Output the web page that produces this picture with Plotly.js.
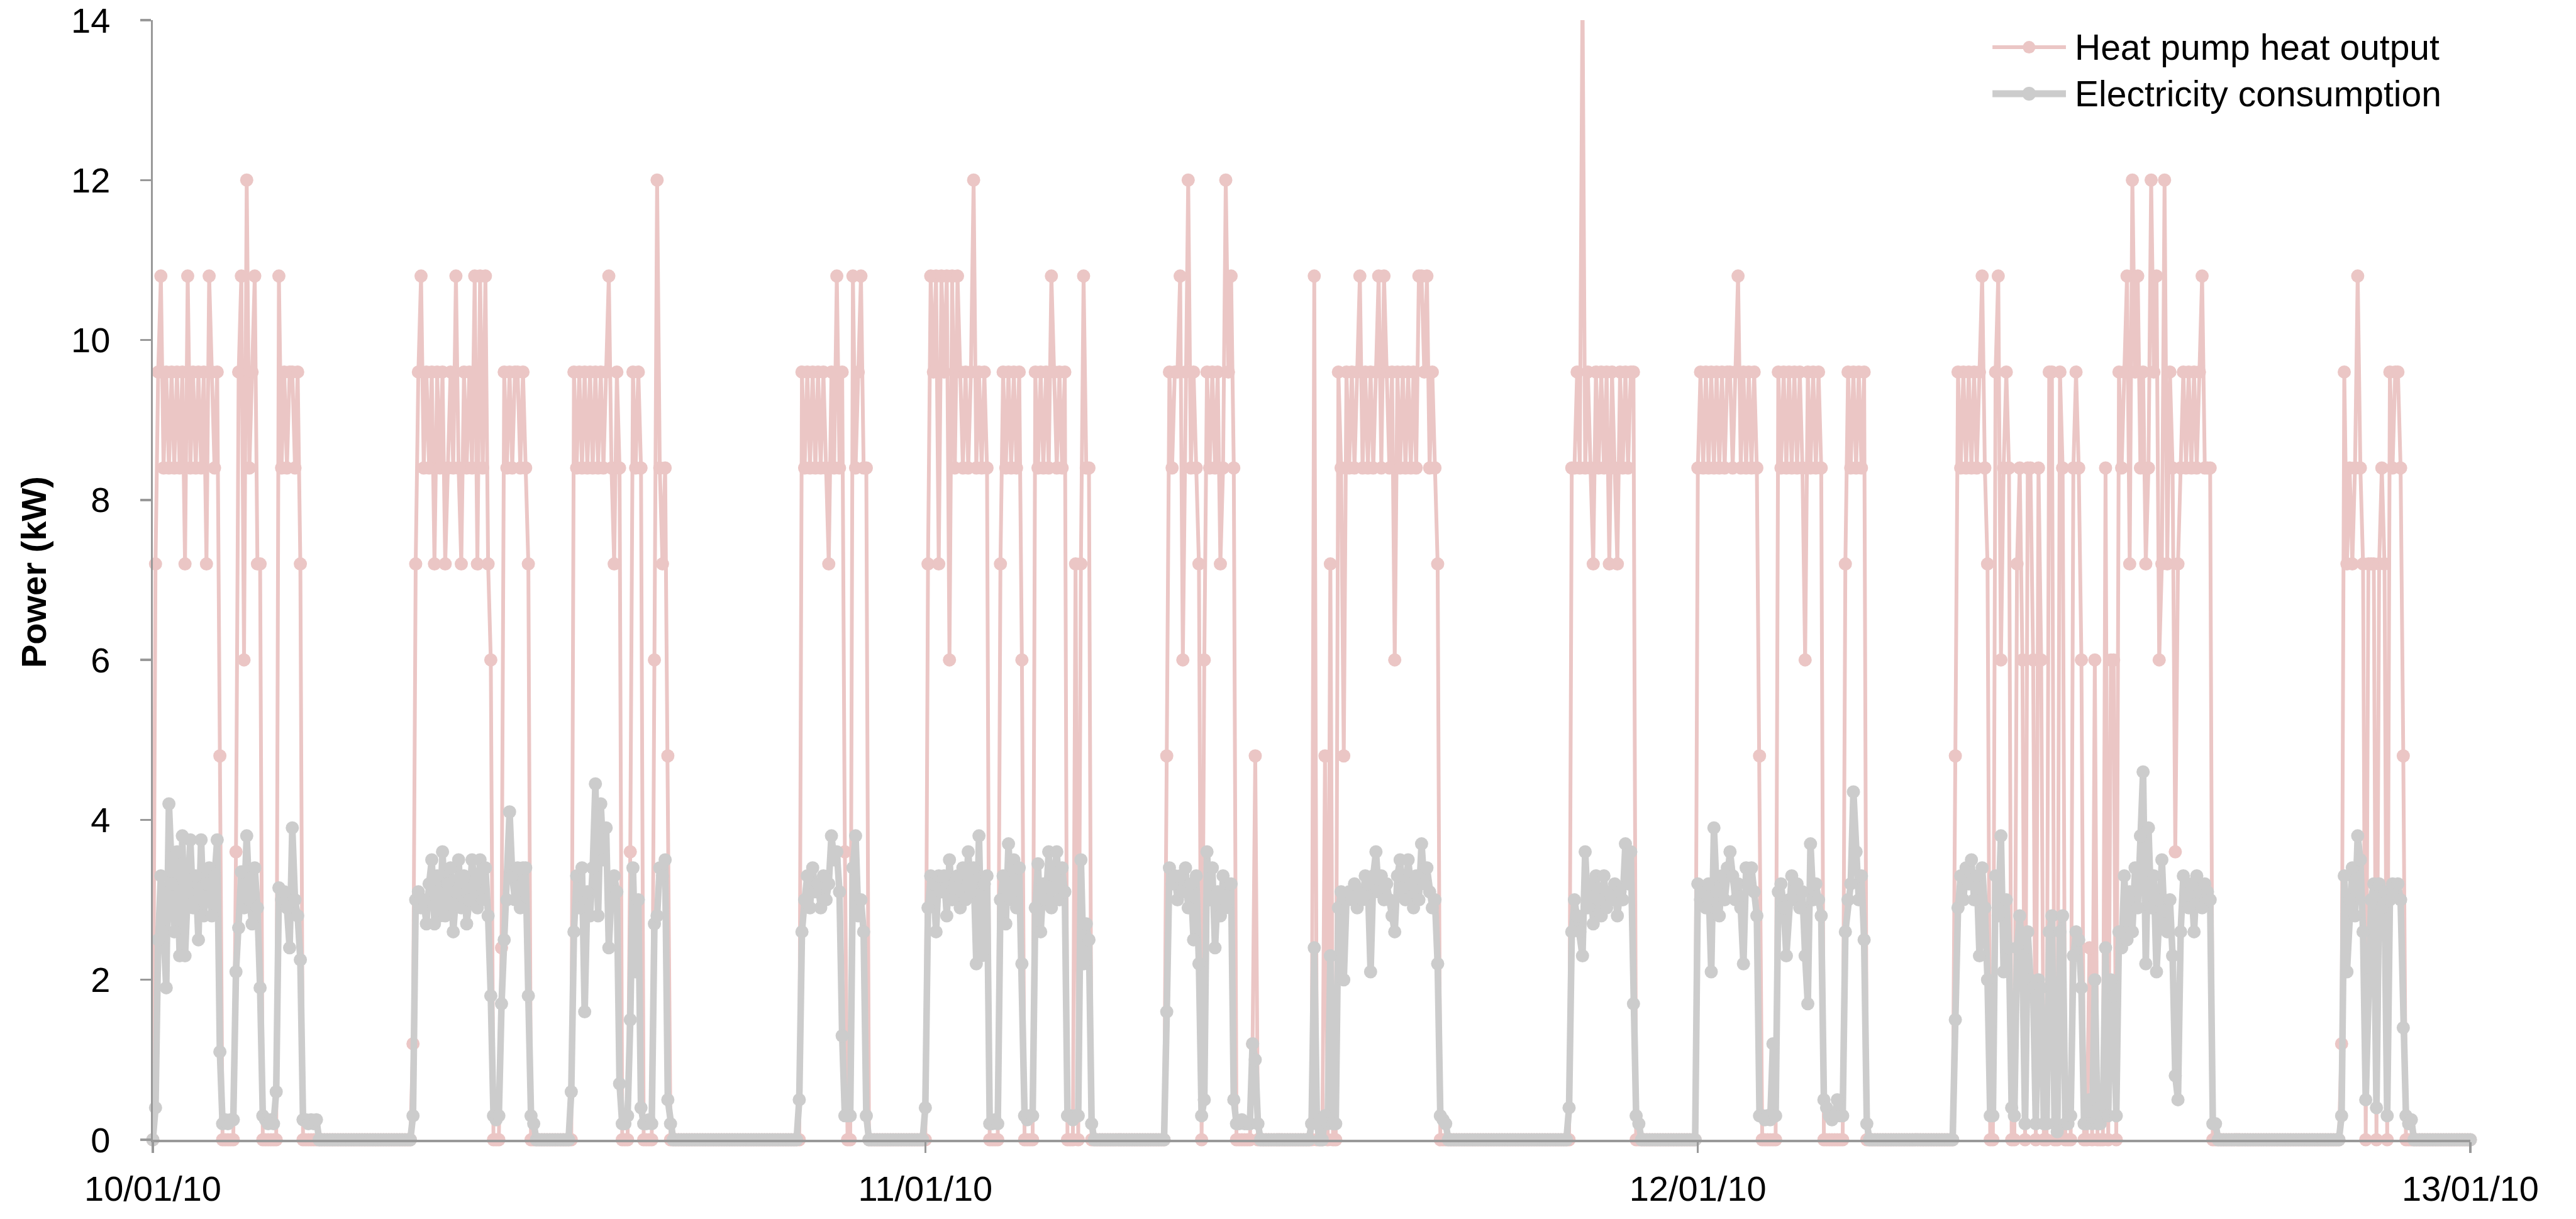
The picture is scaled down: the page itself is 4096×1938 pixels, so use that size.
<!DOCTYPE html>
<html>
<head>
<meta charset="utf-8">
<script src="https://cdn.plot.ly/plotly-3.0.1.min.js"></script>
<style>
  html, body { margin: 0; padding: 0; background: #ffffff; }
  #chart { width: 4096px; height: 1938px; }
</style>
</head>
<body>
<div id="chart"></div>
<script>
// Five-minute readings from 10/01/10 00:00 to 13/01/10 00:00, one row per hour.
const startDate = [2010, 0, 10];
const stepMinutes = 5;

// Heat pump heat output (kW)
const heatOutput = [
  // 10/01/10
  0,7.2,9.6,10.8,8.4,9.6,8.4,9.6,8.4,9.6,8.4,9.6,
  7.2,10.8,8.4,9.6,8.4,9.6,8.4,9.6,7.2,10.8,9.6,8.4,
  9.6,4.8,0,0,0,0,0,3.6,9.6,10.8,6.0,12.0,
  8.4,9.6,10.8,7.2,7.2,0,0,0,0,0,0,10.8,
  8.4,9.6,8.4,9.6,9.6,8.4,9.6,7.2,0,0,0,0,
  0,0,0,0,0,0,0,0,0,0,0,0,
  0,0,0,0,0,0,0,0,0,0,0,0,
  0,0,0,0,0,0,0,0,0,0,0,0,
  0,1.2,7.2,9.6,10.8,8.4,9.6,8.4,9.6,7.2,9.6,8.4,
  9.6,7.2,8.4,9.6,8.4,10.8,8.4,7.2,9.6,8.4,9.6,8.4,
  10.8,7.2,10.8,8.4,10.8,7.2,6.0,0,0,0,2.4,9.6,
  8.4,9.6,8.4,9.6,9.6,8.4,9.6,8.4,7.2,0,0,0,
  0,0,0,0,0,0,0,0,0,0,0,0,
  0,9.6,8.4,9.6,8.4,9.6,8.4,9.6,8.4,9.6,8.4,9.6,
  8.4,9.6,10.8,8.4,7.2,9.6,8.4,0,0,0,3.6,9.6,
  8.4,9.6,8.4,0,0,0,0,6.0,12.0,8.4,7.2,8.4,
  4.8,0,0,0,0,0,0,0,0,0,0,0,
  0,0,0,0,0,0,0,0,0,0,0,0,
  0,0,0,0,0,0,0,0,0,0,0,0,
  0,0,0,0,0,0,0,0,0,0,0,0,
  0,0,9.6,8.4,9.6,8.4,9.6,8.4,9.6,8.4,9.6,8.4,
  7.2,9.6,8.4,10.8,8.4,9.6,3.6,0,0,10.8,8.4,9.6,
  10.8,8.4,8.4,0,0,0,0,0,0,0,0,0,
  0,0,0,0,0,0,0,0,0,0,0,0,
  // 11/01/10
  0,7.2,10.8,9.6,10.8,7.2,10.8,9.6,10.8,6.0,10.8,8.4,
  10.8,9.6,8.4,9.6,8.4,9.6,12.0,8.4,9.6,8.4,9.6,8.4,
  0,0,0,0,7.2,9.6,8.4,9.6,8.4,9.6,8.4,9.6,
  6.0,0,0,0,0,9.6,8.4,9.6,8.4,9.6,8.4,10.8,
  9.6,8.4,9.6,8.4,9.6,0,0,0,7.2,0,7.2,10.8,
  8.4,8.4,0,0,0,0,0,0,0,0,0,0,
  0,0,0,0,0,0,0,0,0,0,0,0,
  0,0,0,0,0,0,4.8,9.6,8.4,9.6,9.6,10.8,
  6.0,9.6,12.0,8.4,9.6,8.4,7.2,0,6.0,9.6,8.4,9.6,
  8.4,9.6,7.2,8.4,12.0,9.6,10.8,8.4,0,0,0,0,
  0,0,1.2,4.8,0,0,0,0,0,0,0,0,
  0,0,0,0,0,0,0,0,0,0,0,0,
  0,10.8,0,0,0,4.8,0,7.2,0,0,9.6,8.4,
  4.8,9.6,8.4,9.6,8.4,9.6,10.8,8.4,9.6,8.4,9.6,8.4,
  9.6,10.8,8.4,10.8,9.6,8.4,9.6,6.0,9.6,8.4,9.6,8.4,
  9.6,8.4,9.6,8.4,10.8,10.8,9.6,10.8,8.4,9.6,8.4,7.2,
  0,0,0,0,0,0,0,0,0,0,0,0,
  0,0,0,0,0,0,0,0,0,0,0,0,
  0,0,0,0,0,0,0,0,0,0,0,0,
  0,0,0,0,0,0,0,0,0,0,0,0,
  0,8.4,8.4,9.6,8.4,14.4,8.4,9.6,8.4,7.2,9.6,8.4,
  9.6,8.4,9.6,7.2,9.6,8.4,7.2,9.6,8.4,9.6,8.4,9.6,
  9.6,0,0,0,0,0,0,0,0,0,0,0,
  0,0,0,0,0,0,0,0,0,0,0,0,
  // 12/01/10
  8.4,9.6,8.4,9.6,8.4,9.6,8.4,9.6,8.4,9.6,8.4,9.6,
  9.6,8.4,9.6,10.8,8.4,9.6,8.4,9.6,8.4,9.6,8.4,4.8,
  0,0,0,0,0,0,9.6,8.4,9.6,8.4,9.6,8.4,
  9.6,8.4,9.6,8.4,6.0,9.6,8.4,9.6,8.4,9.6,8.4,0,
  0,0,0,0,0,0,0,7.2,9.6,8.4,9.6,8.4,
  9.6,8.4,9.6,0,0,0,0,0,0,0,0,0,
  0,0,0,0,0,0,0,0,0,0,0,0,
  0,0,0,0,0,0,0,0,0,0,0,0,
  4.8,9.6,8.4,9.6,8.4,9.6,8.4,9.6,8.4,9.6,10.8,8.4,
  7.2,0,0,9.6,10.8,6.0,8.4,9.6,8.4,0,0,7.2,
  8.4,6.0,0,8.4,8.4,6.0,0,8.4,6.0,0,0,9.6,
  9.6,0,0,9.6,8.4,0,0,0,8.4,9.6,8.4,6.0,
  0,0,2.4,0,6.0,0,0,0,8.4,0,6.0,6.0,
  0,9.6,8.4,9.6,10.8,7.2,12.0,9.6,10.8,8.4,9.6,7.2,
  8.4,12.0,9.6,10.8,6.0,7.2,12.0,7.2,9.6,8.4,3.6,7.2,
  8.4,9.6,8.4,9.6,8.4,9.6,8.4,9.6,10.8,8.4,8.4,8.4,
  0,0,0,0,0,0,0,0,0,0,0,0,
  0,0,0,0,0,0,0,0,0,0,0,0,
  0,0,0,0,0,0,0,0,0,0,0,0,
  0,0,0,0,0,0,0,0,0,0,0,0,
  1.2,9.6,7.2,8.4,7.2,8.4,10.8,8.4,7.2,0,7.2,7.2,
  7.2,0,7.2,8.4,7.2,0,9.6,8.4,9.6,9.6,8.4,4.8,
  0,0,0,0,0,0,0,0,0,0,0,0,
  0,0,0,0,0,0,0,0,0,0,0,0,
  // 13/01/10 00:00
  0
];

// Electricity consumption (kW)
const electricity = [
  // 10/01/10
  0,0.4,2.5,3.3,2.6,1.9,4.2,3.2,2.6,3.6,2.3,3.8,
  2.3,3.1,3.75,2.9,3.3,2.5,3.75,2.8,3.2,3.4,2.8,3.3,
  3.75,1.1,0.2,0.25,0.2,0.25,0.25,2.1,2.65,3.35,2.9,3.8,
  3.0,2.7,3.4,2.9,1.9,0.3,0.25,0.2,0.25,0.2,0.6,3.15,
  3.0,3.1,2.9,2.4,3.9,3.0,2.8,2.25,0.25,0.25,0.2,0.25,
  0.2,0.25,0,0,0,0,0,0,0,0,0,0,
  0,0,0,0,0,0,0,0,0,0,0,0,
  0,0,0,0,0,0,0,0,0,0,0,0,
  0,0.3,3.0,3.1,2.9,3.0,2.7,3.2,3.5,2.7,3.3,2.8,
  3.6,2.8,3.2,3.4,2.6,3.1,3.5,2.9,3.3,2.7,3.0,3.5,
  3.2,2.9,3.5,3.0,3.4,2.8,1.8,0.3,0.25,0.3,1.7,2.5,
  3.0,4.1,3.3,3.0,3.4,2.9,3.4,3.4,1.8,0.3,0.2,0,
  0,0,0,0,0,0,0,0,0,0,0,0,
  0.6,2.6,3.3,2.9,3.4,1.6,3.1,2.8,3.4,4.45,2.8,4.2,
  3.5,3.9,2.4,3.1,3.3,3.1,0.7,0.2,0.2,0.3,1.5,3.4,
  2.1,3.0,0.4,0.2,0.2,0.25,0.2,2.7,2.8,3.4,3.3,3.5,
  0.5,0.2,0,0,0,0,0,0,0,0,0,0,
  0,0,0,0,0,0,0,0,0,0,0,0,
  0,0,0,0,0,0,0,0,0,0,0,0,
  0,0,0,0,0,0,0,0,0,0,0,0,
  0,0.5,2.6,3.0,3.3,2.9,3.4,3.1,3.2,2.9,3.3,3.0,
  3.2,3.8,3.5,3.6,3.1,1.3,0.3,0.3,0.3,3.4,3.8,2.8,
  3.0,2.6,0.3,0,0,0,0,0,0,0,0,0,
  0,0,0,0,0,0,0,0,0,0,0,0,
  // 11/01/10
  0.4,2.9,3.3,3.2,2.6,3.3,3.1,3.3,2.8,3.5,3.0,3.2,
  3.3,2.9,3.4,3.0,3.6,3.1,3.4,2.2,3.8,2.3,3.2,3.3,
  0.2,0.2,0.25,0.2,3.0,3.3,2.7,3.7,3.0,3.5,2.9,3.4,
  2.2,0.3,0.25,0.3,0.3,2.9,3.45,2.6,3.2,3.0,3.6,2.9,
  3.3,3.6,3.0,3.4,3.1,0.3,0.3,0.25,0.3,0.3,3.5,2.2,
  2.7,2.5,0.2,0,0,0,0,0,0,0,0,0,
  0,0,0,0,0,0,0,0,0,0,0,0,
  0,0,0,0,0,0,1.6,3.4,3.2,3.3,3.0,3.3,
  3.1,3.4,2.9,3.2,2.5,3.3,2.2,0.3,0.5,3.6,3.0,3.4,
  2.4,3.1,2.8,3.3,2.9,3.2,3.2,0.5,0.2,0.2,0.25,0.2,
  0.2,0.2,1.2,1.0,0.2,0,0,0,0,0,0,0,
  0,0,0,0,0,0,0,0,0,0,0,0,
  0.2,2.4,0.2,0,0,0.3,0.2,2.3,0.2,0.2,2.9,3.1,
  2.0,3.0,3.1,3.0,3.2,2.9,3.1,3.0,3.3,3.2,2.1,3.3,
  3.6,3.1,3.3,3.0,3.2,3.0,2.8,2.6,3.3,3.5,3.1,3.0,
  3.5,3.2,2.9,3.3,3.0,3.7,3.2,3.4,3.1,2.9,3.0,2.2,
  0.3,0.25,0.2,0,0,0,0,0,0,0,0,0,
  0,0,0,0,0,0,0,0,0,0,0,0,
  0,0,0,0,0,0,0,0,0,0,0,0,
  0,0,0,0,0,0,0,0,0,0,0,0,
  0.4,2.6,3.0,2.8,2.6,2.3,3.6,2.9,3.2,2.7,3.3,3.0,
  2.8,3.3,2.9,3.1,3.0,3.2,2.8,3.1,3.0,3.7,3.2,3.6,
  1.7,0.3,0.2,0,0,0,0,0,0,0,0,0,
  0,0,0,0,0,0,0,0,0,0,0,0,
  // 12/01/10
  3.2,3.0,3.1,2.9,3.2,2.1,3.9,3.1,2.8,3.3,3.0,3.4,
  3.6,3.3,3.0,3.2,2.9,2.2,3.4,3.2,3.4,3.1,2.8,0.3,
  0.3,0.25,0.3,0.25,1.2,0.3,3.1,3.2,2.9,2.3,3.0,3.3,
  3.0,3.2,2.9,3.1,2.3,1.7,3.7,3.0,3.2,3.0,2.8,0.5,
  0.4,0.3,0.25,0.3,0.5,0.3,0.3,2.6,3.0,3.2,4.35,3.6,
  3.0,3.3,2.5,0.2,0,0,0,0,0,0,0,0,
  0,0,0,0,0,0,0,0,0,0,0,0,
  0,0,0,0,0,0,0,0,0,0,0,0,
  1.5,2.9,3.3,3.0,3.4,3.2,3.5,3.0,3.3,2.3,3.4,2.9,
  2.0,0.3,0.3,3.3,2.8,3.8,2.1,3.0,2.4,0.4,0.3,2.4,
  2.8,2.3,0.2,2.6,2.0,1.9,0.2,2.0,1.9,0.2,0.2,2.6,
  2.8,0.2,0.1,2.6,2.8,0.2,0.2,0.3,2.3,2.6,2.5,1.9,
  0.2,0.2,0.5,0.2,2.0,0.2,0.2,0.3,2.4,0.3,2.0,1.8,
  0.3,2.6,2.4,3.3,2.5,3.1,2.6,3.4,2.9,3.8,4.6,2.2,
  3.9,2.9,3.3,2.1,3.0,3.5,2.7,2.6,3.0,2.3,0.8,0.5,
  2.6,3.3,3.0,2.9,3.2,2.6,3.3,3.1,2.9,3.2,3.1,3.0,
  0.2,0.2,0,0,0,0,0,0,0,0,0,0,
  0,0,0,0,0,0,0,0,0,0,0,0,
  0,0,0,0,0,0,0,0,0,0,0,0,
  0,0,0,0,0,0,0,0,0,0,0,0,
  0.3,3.3,2.1,3.0,3.4,2.8,3.8,3.5,2.6,0.5,2.0,3.0,
  3.2,0.4,3.2,2.9,3.1,0.3,3.0,3.2,3.1,3.2,3.0,1.4,
  0.3,0.2,0.25,0,0,0,0,0,0,0,0,0,
  0,0,0,0,0,0,0,0,0,0,0,0,
  // 13/01/10 00:00
  0
];

const seriesNames = ['Heat pump heat output', 'Electricity consumption'];
const tickDates = ['2010-01-10', '2010-01-11', '2010-01-12', '2010-01-13'];
const tickLabels = ['10/01/10', '11/01/10', '12/01/10', '13/01/10'];
const yTicks = [0, 2, 4, 6, 8, 10, 12, 14];
const axisTitle = 'Power (kW)';

const pink = '#EBC6C5';
const grey = '#CCCCCC';
const axisGrey = '#999999';
const fontFamily = '"Liberation Sans", Arial, Helvetica, sans-serif';

function pad(n) { return String(n).padStart(2, '0'); }
const t0 = Date.UTC(startDate[0], startDate[1], startDate[2]);
const times = heatOutput.map(function (_, i) {
  const d = new Date(t0 + i * stepMinutes * 60000);
  return d.getUTCFullYear() + '-' + pad(d.getUTCMonth() + 1) + '-' + pad(d.getUTCDate()) +
    ' ' + pad(d.getUTCHours()) + ':' + pad(d.getUTCMinutes());
});

const traces = [
  {
    x: times, y: heatOutput, name: seriesNames[0], type: 'scatter', mode: 'lines+markers',
    line: { color: pink, width: 6 }, marker: { color: pink, size: 21 },
    cliponaxis: false, hoverinfo: 'skip'
  },
  {
    x: times, y: electricity, name: seriesNames[1], type: 'scatter', mode: 'lines+markers',
    line: { color: grey, width: 10.5 }, marker: { color: grey, size: 21 },
    cliponaxis: false, hoverinfo: 'skip'
  }
];

// legend drawn beside the top-right corner
const legendX0 = 0.7938, legendX1 = 0.8255, legendXm = 0.8096, legendTextX = 0.8288;
const legendY = [0.9758, 0.9343];

const layout = {
  width: 4096, height: 1938,
  margin: { l: 243, r: 168, t: 32, b: 126, pad: 0 },
  paper_bgcolor: '#ffffff', plot_bgcolor: '#ffffff',
  showlegend: false,
  font: { family: fontFamily, color: '#000000' },
  xaxis: {
    type: 'date',
    range: [tickDates[0], tickDates[3]],
    tickmode: 'array', tickvals: tickDates, ticktext: tickLabels,
    showgrid: false, zeroline: false,
    showline: true, linecolor: axisGrey, linewidth: 3.5,
    ticks: 'outside', ticklen: 17, tickwidth: 3.5, tickcolor: axisGrey,
    tickfont: { family: fontFamily, size: 56, color: '#000000' },
    ticklabelstandoff: 9
  },
  yaxis: {
    range: [0, 14],
    tickmode: 'array', tickvals: yTicks, ticktext: yTicks.map(String),
    showgrid: false, zeroline: false,
    showline: true, linecolor: axisGrey, linewidth: 3.5,
    ticks: 'outside', ticklen: 17, tickwidth: 3.5, tickcolor: axisGrey,
    tickfont: { family: fontFamily, size: 56, color: '#000000' },
    ticklabelstandoff: 36
  },
  shapes: [
    { type: 'line', xref: 'paper', yref: 'paper', x0: legendX0, x1: legendX1, y0: legendY[0], y1: legendY[0],
      line: { color: pink, width: 6 } },
    { type: 'circle', xref: 'paper', yref: 'paper', xsizemode: 'pixel', ysizemode: 'pixel',
      xanchor: legendXm, yanchor: legendY[0], x0: -10, x1: 10, y0: -10, y1: 10,
      fillcolor: pink, line: { width: 0 } },
    { type: 'line', xref: 'paper', yref: 'paper', x0: legendX0, x1: legendX1, y0: legendY[1], y1: legendY[1],
      line: { color: grey, width: 11 } },
    { type: 'circle', xref: 'paper', yref: 'paper', xsizemode: 'pixel', ysizemode: 'pixel',
      xanchor: legendXm, yanchor: legendY[1], x0: -11, x1: 11, y0: -11, y1: 11,
      fillcolor: grey, line: { width: 0 } }
  ],
  annotations: [
    { text: seriesNames[0], xref: 'paper', yref: 'paper', x: legendTextX, y: legendY[0],
      xanchor: 'left', yanchor: 'middle', showarrow: false,
      font: { family: fontFamily, size: 57, color: '#000000' } },
    { text: seriesNames[1], xref: 'paper', yref: 'paper', x: legendTextX, y: legendY[1],
      xanchor: 'left', yanchor: 'middle', showarrow: false,
      font: { family: fontFamily, size: 57, color: '#000000' } },
    { text: '<b>' + axisTitle + '</b>', xref: 'paper', yref: 'paper', x: 0, xshift: -190,
      y: 0.5067, xanchor: 'center', yanchor: 'middle', textangle: -90, showarrow: false,
      font: { family: fontFamily, size: 56, color: '#000000' } }
  ]
};

Plotly.newPlot('chart', traces, layout, { staticPlot: true, displayModeBar: false });
</script>
</body>
</html>
